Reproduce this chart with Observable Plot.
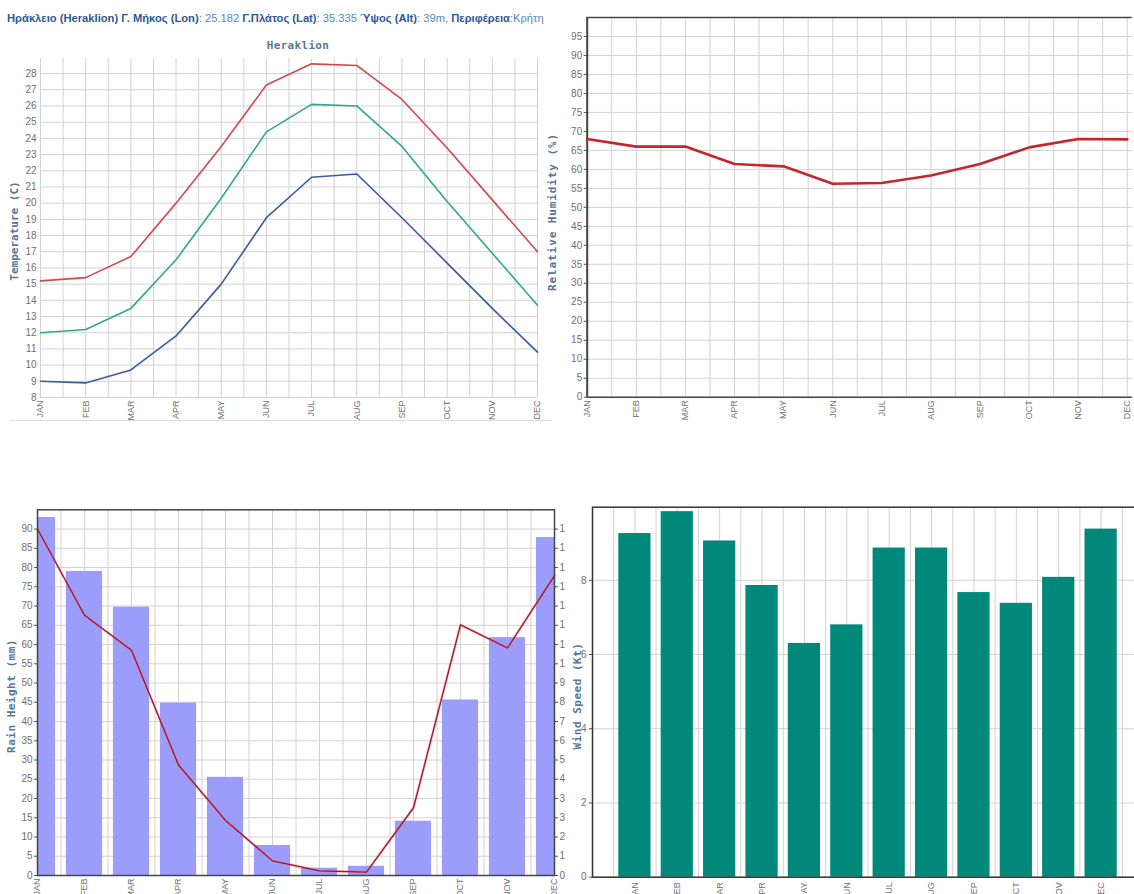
<!DOCTYPE html>
<html>
<head>
<meta charset="utf-8">
<script src="https://cdn.jsdelivr.net/npm/d3@7"></script>
<script src="https://cdn.jsdelivr.net/npm/@observablehq/plot@0.6"></script>
<style>
  html, body { margin: 0; padding: 0; background: #fff; }
  body { width: 1134px; height: 894px; overflow: hidden; position: relative; font-family: "Liberation Sans", Arial, sans-serif; }
  .abs { position: absolute; }
  .hdr { left: 7px; top: 12px; font-size: 11.2px; white-space: nowrap; color: #5288c8; }
  .hdr b { color: #2b5a94; }
  .ttl { font-family: "DejaVu Sans Mono", monospace; font-weight: bold; color: #56779a; font-size: 11px; white-space: nowrap; text-align: center; }
  .vt { transform: rotate(-90deg); transform-origin: 50% 50%; width: 240px; height: 14px; line-height: 14px; }
  svg { display: block; max-width: none !important; }
</style>
</head>
<body>
<script>
// ---- data ----
const months = ["JAN","FEB","MAR","APR","MAY","JUN","JUL","AUG","SEP","OCT","NOV","DEC"];
const tempMax  = [15.2, 15.4, 16.7, 20.0, 23.5, 27.3, 28.6, 28.5, 26.4, 23.4, 20.2, 17.0];
const tempMean = [12.0, 12.2, 13.5, 16.5, 20.3, 24.4, 26.1, 26.0, 23.5, 20.1, 16.9, 13.7];
const tempMin  = [9.0, 8.9, 9.7, 11.8, 15.0, 19.1, 21.6, 21.8, 19.1, 16.3, 13.5, 10.8];
const humidity = [68.0, 66.0, 66.0, 61.4, 60.8, 56.2, 56.4, 58.4, 61.4, 65.8, 68.0, 67.9];
const rainHeight = [93.0, 79.0, 69.7, 44.8, 25.5, 7.8, 1.9, 2.4, 14.1, 45.6, 61.8, 87.8];
const rainLine = [90.0, 67.6, 58.5, 28.7, 14.3, 3.8, 1.2, 0.9, 17.6, 65.1, 59.1, 77.9];
const windRightLabels = ["0","1","2","3","3","4","5","6","7","8","9","1","1","1","1","1","1","1","1"];
const windSpeed = [9.26, 9.85, 9.06, 7.86, 6.30, 6.80, 8.87, 8.87, 7.67, 7.38, 8.08, 9.38];
const tempTicks = d3.range(8, 29);
const humTicks = d3.range(0, 100, 5);
const rainTicks = d3.range(0, 91, 5);
const windTicks = [0, 2, 4, 6, 8];

const idx = d3.range(12);
const gridC = "#d2d2d2";
const tickC = "#6f6f6f";

function place(el, left, top) {
  const d = document.createElement("div");
  d.className = "abs";
  d.style.left = left + "px";
  d.style.top = top + "px";
  d.appendChild(el);
  document.body.appendChild(d);
}
function vtitle(text, cx, cy, extra) {
  const d = document.createElement("div");
  d.className = "abs ttl vt";
  d.textContent = text;
  d.style.left = (cx - 120) + "px";
  d.style.top = (cy - 7) + "px";
  if (extra) Object.assign(d.style, extra);
  document.body.appendChild(d);
}

// header
const hdr = document.createElement("div");
hdr.className = "abs hdr";
hdr.innerHTML = "<b>Ηράκλειο (Heraklion) Γ. Μήκος (Lon)</b>: 25.182 <b>Γ.Πλάτος (Lat)</b>: 35.335 <b>Ύψος (Alt)</b>: 39m, <b>Περιφέρεια</b>:Κρήτη";
document.body.appendChild(hdr);

const t = document.createElement("div");
t.className = "abs ttl";
t.style.left = "248px"; t.style.top = "39px"; t.style.width = "100px"; t.style.letterSpacing = "0.3px";
t.textContent = "Heraklion";
document.body.appendChild(t);

const baseStyle = {fontFamily: "'Liberation Sans', Arial, sans-serif", fontSize: "10px", color: tickC, background: "transparent", overflow: "visible", maxWidth: "none"};

// ---- chart 1: temperature ----
const tempSeries = [
  {vals: tempMax, color: "#d7464b"},
  {vals: tempMean, color: "#2fa88a"},
  {vals: tempMin, color: "#3b5aa5"}
];
const c1 = Plot.plot({
  width: 560, height: 390,
  marginLeft: 40, marginRight: 23, marginTop: 18, marginBottom: 33,
  style: baseStyle,
  x: {domain: [0, 11]},
  y: {domain: [8, 28.93]},
  marks: [
    Plot.gridX(d3.range(0, 11.01, 0.5), {stroke: gridC, strokeOpacity: 1}),
    Plot.gridY(tempTicks, {stroke: gridC, strokeOpacity: 1}),
    Plot.axisY(tempTicks, {tickSize: 0, tickPadding: 4, label: null, fontSize: 10}),
    Plot.axisX(idx, {tickFormat: i => months[i], tickRotate: -90, tickSize: 0, tickPadding: 3, label: null, fontSize: 9}),
    ...tempSeries.map(s => Plot.line(idx, {x: i => i, y: i => s.vals[i], stroke: s.color, strokeWidth: 1.6}))
  ]
});
place(c1, 0, 40);
vtitle("Temperature (C)", 15, 231);
const hl = document.createElement("div");
hl.className = "abs";
Object.assign(hl.style, {left: "10px", top: "420px", width: "542px", height: "1px", background: "#dcdcdc"});
document.body.appendChild(hl);

// ---- chart 2: humidity ----
const c2 = Plot.plot({
  width: 600, height: 430,
  marginLeft: 46.7, marginRight: 8.3, marginTop: 17, marginBottom: 33.3,
  style: baseStyle,
  x: {domain: [0, 11.1]},
  y: {domain: [0, 100]},
  marks: [
    Plot.gridX(d3.range(0, 11.01, 0.5), {stroke: gridC, strokeOpacity: 1}),
    Plot.gridY(humTicks, {stroke: gridC, strokeOpacity: 1}),
    Plot.axisY(humTicks, {tickSize: 3, tickPadding: 2, label: null, fontSize: 10, stroke: "#555"}),
    Plot.axisX(idx, {tickFormat: i => months[i], tickRotate: -90, tickSize: 0, tickPadding: 3, label: null, fontSize: 9}),
    Plot.ruleX([0], {stroke: "#444", strokeWidth: 2}),
    Plot.ruleY([0], {stroke: "#444", strokeWidth: 1.5}),
    Plot.ruleY([100], {stroke: "#444", strokeWidth: 1.5}),
    Plot.line(idx, {x: i => i, y: i => humidity[i], stroke: "#c4262e", strokeWidth: 2.6})
  ]
});
place(c2, 540, 0);
vtitle("Relative Humidity (%)", 553, 212, {letterSpacing: "0.9px"});

// ---- chart 3: rain + right axis line ----
const c3 = Plot.plot({
  width: 600, height: 440,
  marginLeft: 37, marginRight: 46, marginTop: 29.3, marginBottom: 45,
  style: baseStyle,
  x: {domain: [0, 11]},
  y: {domain: [0, 95]},
  marks: [
    Plot.gridX(d3.range(0, 11.01, 0.5), {stroke: gridC, strokeOpacity: 1}),
    Plot.gridY(rainTicks, {stroke: gridC, strokeOpacity: 1}),
    Plot.rect(idx, {x1: i => i - 0.385, x2: i => i + 0.385, y1: 0, y2: i => rainHeight[i], fill: "#9c9cfa", clip: true}),
    Plot.line(idx, {x: i => i, y: i => rainLine[i], stroke: "#f07070", strokeWidth: 2.6, strokeOpacity: 0.45}),
    Plot.line(idx, {x: i => i, y: i => rainLine[i], stroke: "#9a1838", strokeWidth: 1.3}),
    Plot.axisY(rainTicks, {tickSize: 3, tickPadding: 2, label: null, fontSize: 10, stroke: "#555"}),
    Plot.axisY(rainTicks, {anchor: "right", tickFormat: d => windRightLabels[d / 5], tickSize: 3, tickPadding: 2, label: null, fontSize: 10, stroke: "#555"}),
    Plot.axisX(idx, {tickFormat: i => months[i], tickRotate: -90, tickSize: 0, tickPadding: 3, label: null, fontSize: 9}),
    Plot.frame({stroke: "#444", strokeWidth: 1.5})
  ]
});
place(c3, 0, 480);
vtitle("Rain Height (mm)", 12, 696, {letterSpacing: "0.5px"});
vtitle("Wind Speed (Kt)", 578, 696, {letterSpacing: "0.5px"});

// ---- chart 4: wind speed bars ----
const c4 = Plot.plot({
  width: 600, height: 440,
  marginLeft: 32, marginRight: 17, marginTop: 26.7, marginBottom: 43.3,
  style: baseStyle,
  x: {domain: [0, 13]},
  y: {domain: [0, 9.97]},
  marks: [
    Plot.gridX(d3.range(0.5, 13, 0.5), {stroke: gridC, strokeOpacity: 1}),
    Plot.gridY(windTicks, {stroke: gridC, strokeOpacity: 1}),
    Plot.rect(idx, {x1: i => i + 1 - 0.38, x2: i => i + 1 + 0.38, y1: 0, y2: i => windSpeed[i], fill: "#00897b"}),
    Plot.axisY(windTicks, {tickSize: 3, tickPadding: 3, label: null, fontSize: 10, stroke: "#555"}),
    Plot.axisX(d3.range(1, 13), {tickFormat: d => months[d - 1], tickRotate: -90, tickSize: 0, tickPadding: 5, label: null, fontSize: 9}),
    Plot.frame({stroke: "#333", strokeWidth: 1.5})
  ]
});
place(c4, 560, 480);
</script>
</body>
</html>
